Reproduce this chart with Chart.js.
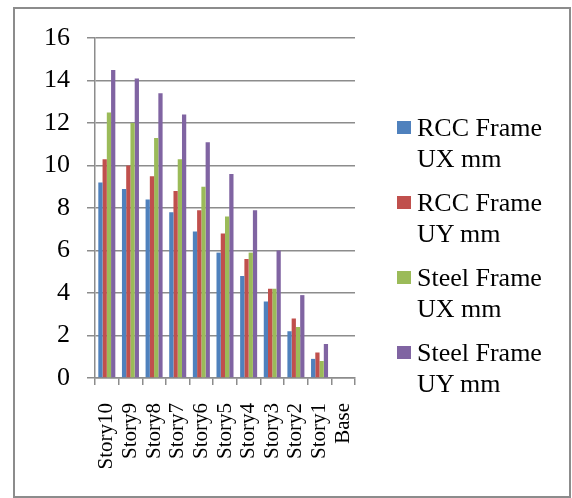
<!DOCTYPE html>
<html>
<head>
<meta charset="utf-8">
<script src="https://cdn.jsdelivr.net/npm/chart.js@4"></script>
<style>
    html, body { margin: 0; padding: 0; background: #fff; }
    body { width: 572px; height: 498px; position: relative; overflow: hidden; }
    #grafica { position: absolute; left: 0; top: 0; }
    .marco {
        position: absolute; left: 13px; top: 7px; width: 558px; height: 491px;
        box-sizing: border-box; border: 2px solid #8c8c8c; pointer-events: none;
    }
    .leyenda { position: absolute; left: 397px; top: 0; font-family: "Liberation Serif", "Times New Roman", serif; }
    .item { position: absolute; left: 0; width: 170px; font-size: 26px; line-height: 31px; color: #000; }
    .item span.caja { position: absolute; left: 0; top: 9px; width: 14px; height: 13px; }
    .item div.txt { margin-left: 20px; }
</style>
</head>
<body>
<canvas id="grafica" width="572" height="498"></canvas>
<div class="marco"></div>
<div class="leyenda" id="leyenda"></div>

<script>
// ============================================================
//  Datos
// ============================================================
const pisos = ['Story10', 'Story9', 'Story8', 'Story7', 'Story6', 'Story5',
               'Story4', 'Story3', 'Story2', 'Story1', 'Base'];

const rccUX   = [9.2, 8.9, 8.4, 7.8, 6.9, 5.9, 4.8, 3.6, 2.2, 0.9, 0];
const rccUY   = [10.3, 10.0, 9.5, 8.8, 7.9, 6.8, 5.6, 4.2, 2.8, 1.2, 0];
const steelUX = [12.5, 12.0, 11.3, 10.3, 9.0, 7.6, 5.9, 4.2, 2.4, 0.8, 0];
const steelUY = [14.5, 14.1, 13.4, 12.4, 11.1, 9.6, 7.9, 6.0, 3.9, 1.6, 0];

const series  = [['RCC Frame', 'UX mm'], ['RCC Frame', 'UY mm'],
                 ['Steel Frame', 'UX mm'], ['Steel Frame', 'UY mm']];
const colores = ['#4F81BD', '#C0504D', '#9BBB59', '#8064A2'];

const yMin = 0, yMax = 16, yPaso = 2;

// ============================================================
//  Estilo común
// ============================================================
const gris = '#8c8c8c';
Chart.defaults.font.family = '"Liberation Serif", "Times New Roman", serif';
Chart.defaults.color = '#000';

const valores = [rccUX, rccUY, steelUX, steelUY];

new Chart(document.getElementById('grafica').getContext('2d'), {
    type: 'bar',
    data: {
        labels: pisos,
        datasets: valores.map((v, i) => ({
            label: series[i].join(' '),
            data: v,
            backgroundColor: colores[i],
            borderWidth: 0,
            categoryPercentage: 0.72,
            barPercentage: 1.0
        }))
    },
    options: {
        responsive: false,
        animation: false,
        layout: { padding: { left: 20, top: 38, right: 217, bottom: 0 } },
        plugins: {
            legend: { display: false },
            tooltip: { enabled: false }
        },
        scales: {
            x: {
                grid: {
                    display: true,
                    drawOnChartArea: false,
                    drawTicks: true,
                    tickLength: 7,
                    offset: true,
                    color: gris,
                    lineWidth: 1.5
                },
                border: { display: true, color: gris, width: 1.5 },
                ticks: {
                    minRotation: 90,
                    maxRotation: 90,
                    padding: 18,
                    autoSkip: false,
                    font: { size: 21 }
                },
                afterFit: scale => { scale.height = 120; }
            },
            y: {
                min: yMin,
                max: yMax,
                ticks: { stepSize: yPaso, padding: 17, font: { size: 26 } },
                grid: { color: gris, lineWidth: 1.5, tickLength: 8, drawTicks: true },
                border: { display: true, color: gris, width: 1.5 },
                afterFit: scale => { scale.width = 75; }
            }
        }
    }
});

// ============================================================
//  Leyenda a la derecha (texto en dos líneas)
// ============================================================
const leyenda = document.getElementById('leyenda');
series.forEach((s, i) => {
    const item = document.createElement('div');
    item.className = 'item';
    item.style.top = (112 + i * 75) + 'px';
    item.innerHTML = `<span class="caja" style="background:${colores[i]}"></span>` +
                     `<div class="txt">${s[0]}<br>${s[1]}</div>`;
    leyenda.appendChild(item);
});
</script>
</body>
</html>
